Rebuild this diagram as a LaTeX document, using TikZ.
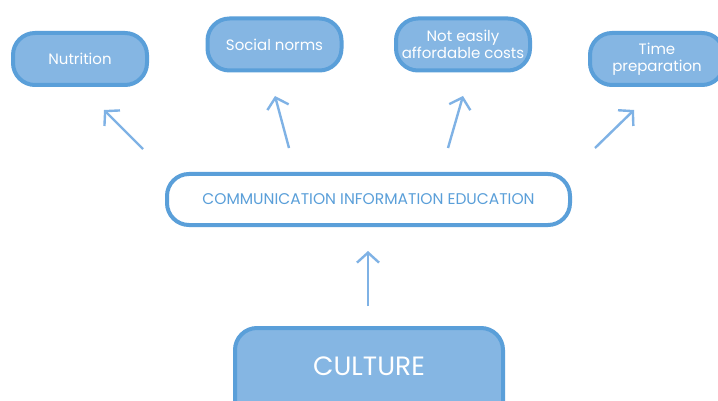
\documentclass[tikz,border=0pt]{standalone}
\usepackage{fontspec}
\setmainfont{Poppins}
\usetikzlibrary{arrows.meta}
\definecolor{boxfill}{HTML}{85B6E3}
\definecolor{boxline}{HTML}{5A9FD9}
\definecolor{arrowc}{HTML}{7FB2E5}
\begin{document}
\begin{tikzpicture}[x=1pt,y=-1pt,
  topbox/.style={draw=boxline, line width=4pt, fill=boxfill, rounded corners=22pt,
    minimum width=134pt, minimum height=52pt, inner sep=0pt, text=white,
    font=\fontsize{15}{16.5}\selectfont, align=center},
  ciebox/.style={draw=boxline, line width=4pt, fill=white, rounded corners=22pt,
    minimum width=403pt, minimum height=51pt, inner sep=0pt, text=boxline,
    font=\fontsize{15.5}{18}\selectfont},
  culturebox/.style={draw=boxline, line width=4pt, fill=boxfill, rounded corners=22pt,
    minimum width=268pt, minimum height=100pt, inner sep=0pt, text=white,
    font=\fontsize{20}{24}\selectfont},
  uparrow/.style={draw=arrowc, line width=2.4pt, -{Straight Barb[length=10pt,width=22pt,line width=2.4pt]}}
]
\clip (0,0) rectangle (718,401);
\fill[white] (0,0) rectangle (718,401);
\node[topbox] (nut) at (80,59) {Nutrition};
\node[topbox] (soc) at (274.5,44.5) {Social norms};
\node[topbox] (cost) at (463,44.5) {Not easily\\affordable costs};
\node[topbox] (time) at (657,59) {Time\\preparation};
\node[ciebox] (cie) at (368.5,199.5) {COMMUNICATION INFORMATION EDUCATION};
\node[culturebox] (cul) at (369,378) {};
\node[text=white, font=\fontsize{26.5}{30}\selectfont] (cultxt) at (369,366) {CULTURE};
\coordinate (t1) at (143,149); \coordinate (h1) at (104,110);
\coordinate (t2) at (289,148); \coordinate (h2) at (275,96);
\coordinate (t3) at (448,148); \coordinate (h3) at (463,96);
\coordinate (t4) at (595,148); \coordinate (h4) at (634,110);
\coordinate (t5) at (368,306); \coordinate (h5) at (368,251);
\draw[uparrow] (t1) -- (h1);
\draw[uparrow] (t2) -- (h2);
\draw[uparrow] (t3) -- (h3);
\draw[uparrow] (t4) -- (h4);
\draw[uparrow] (t5) -- (h5);
\end{tikzpicture}
\end{document}
